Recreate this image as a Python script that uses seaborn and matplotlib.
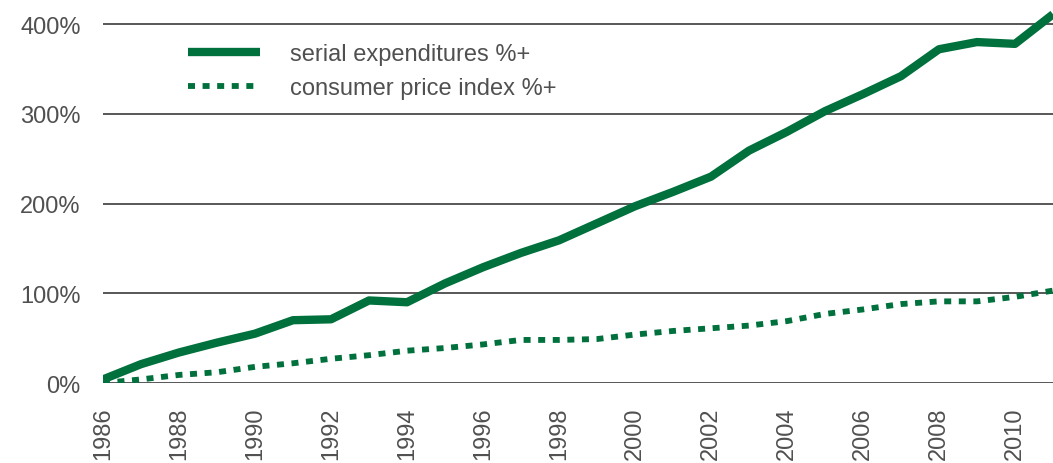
import pandas as pd
import seaborn as sns
import matplotlib.pyplot as plt
from matplotlib.ticker import FuncFormatter

years = list(range(1986, 2012))
serial_exp = [4, 21, 34, 45, 55, 70, 71, 92, 90, 111, 129, 145, 159, 178, 197, 213, 230,
              259, 280, 303, 322, 342, 372, 380, 378, 411]
cpi = [0, 4, 9, 12, 18, 22, 27, 31, 36, 39, 43, 48, 48, 49, 54, 58, 61, 64, 69, 77, 82,
       88, 91, 91, 96, 103]
labels = ['serial expenditures %+', 'consumer price index %+']

green = '#00703c'

sns.set_style('white')
plt.rcParams['font.family'] = ['Liberation Sans', 'DejaVu Sans']

df = pd.DataFrame({'year': years, 'serial': serial_exp, 'cpi': cpi})

fig = plt.figure(figsize=(10.53, 4.64), dpi=100)
ax = fig.add_axes([0.0978, 0.1724, 0.9022, 0.8276])

# gridlines first, lines on top
for v in [0, 100, 200, 300, 400]:
    ax.axhline(v, color='#4a4a4a', lw=1.3, zorder=1)

sns.lineplot(data=df, x='year', y='serial', ax=ax, color=green, lw=6, label=labels[0],
             zorder=3, solid_capstyle='butt')
sns.lineplot(data=df, x='year', y='cpi', ax=ax, color=green, lw=4.2, label=labels[1],
             zorder=3, dashes=False)
ax.lines[-1].set_linestyle((0, (1.2, 1.3)))

ax.set_xlim(1986, 2011)
ax.set_ylim(0, 428)
ax.set_yticks([0, 100, 200, 300, 400])
ax.yaxis.set_major_formatter(FuncFormatter(lambda v, p: f'{int(v)}%'))
ax.set_xticks(list(range(1986, 2011, 2)))
ax.tick_params(axis='x', labelrotation=90, pad=17)
ax.tick_params(axis='y', pad=16)
ax.tick_params(labelsize=17, colors='#505050', length=0)
ax.set_xlabel('')
ax.set_ylabel('')
for s in ax.spines.values():
    s.set_visible(False)

leg = ax.legend(loc='upper left', bbox_to_anchor=(0.0895, 0.886), frameon=False, fontsize=17,
                borderaxespad=0, borderpad=0,
                handlelength=3.05, handletextpad=1.27, labelspacing=0.52)
for t in leg.get_texts():
    t.set_color('#505050')
leg.get_lines()[1].set_linestyle((0, (1.2, 1.3)))

fig.savefig('out.png', dpi=100)
